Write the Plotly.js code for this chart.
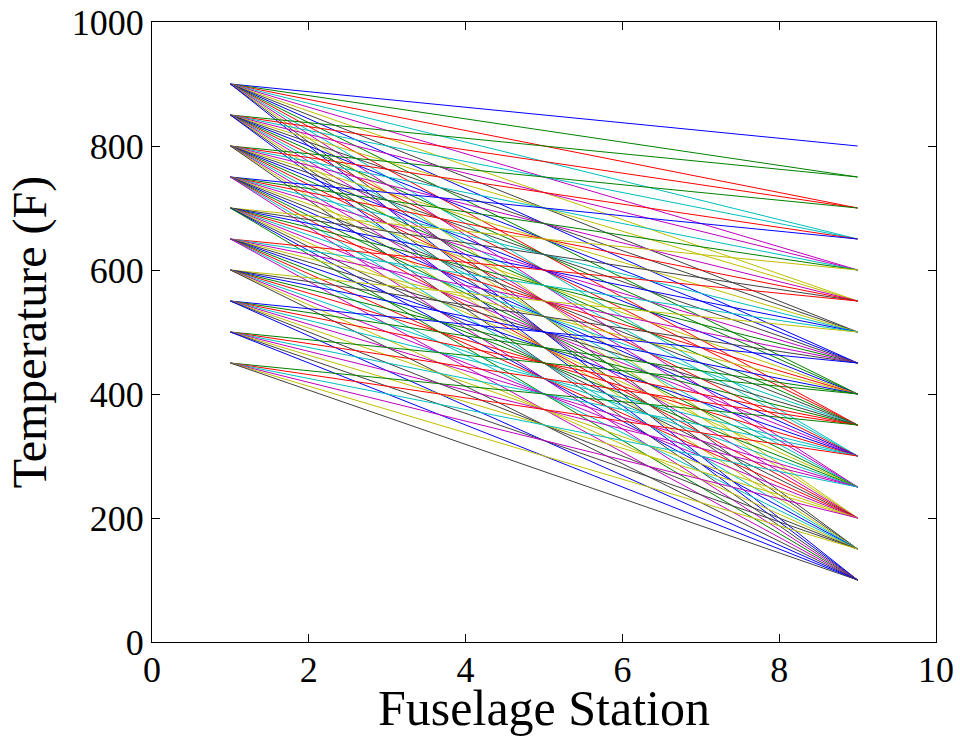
<!DOCTYPE html>
<html>
<head>
<meta charset="utf-8">
<script src="https://cdn.plot.ly/plotly-3.0.1.min.js"></script>
<style>
  html, body { margin: 0; padding: 0; background: #ffffff; }
  #chart { width: 960px; height: 736px; }
</style>
</head>
<body>
<div id="chart"></div>
<script>
// Fuselage stations where each temperature line starts and ends
const stations = [1, 9];
// Temperatures at the first station (F)
const startTemps = [900, 850, 800, 750, 700, 650, 600, 550, 500, 450];
// Temperatures at the last station (F)
const endTemps = [800, 750, 700, 650, 600, 550, 500, 450, 400, 350, 300, 250, 200, 150, 100];
// Smallest drop between first and last station shown (F)
const minDrop = 100;

const xTicks = [0, 2, 4, 6, 8, 10];
const yTicks = [0, 200, 400, 600, 800, 1000];

// MATLAB classic colour order
const palette = ['#0000ff', '#008000', '#ff0000', '#00bfbf', '#bf00bf', '#bfbf00', '#404040'];

const traces = [];
let k = 0;
for (const s of startTemps) {
  for (const e of endTemps) {
    if (e <= s - minDrop) {
      traces.push({
        x: stations,
        y: [s, e],
        type: 'scatter',
        mode: 'lines',
        line: { color: palette[k % palette.length], width: 1 },
        hoverinfo: 'skip'
      });
      k++;
    }
  }
}

const font = 'Liberation Serif, Times New Roman, serif';
const axisCommon = {
  showline: true, linecolor: '#000', linewidth: 1,
  mirror: 'ticks', ticks: 'inside', ticklen: 8, tickwidth: 1, tickcolor: '#000',
  showgrid: false, zeroline: false,
  tickfont: { family: font, size: 36, color: '#000' }
};

const layout = {
  width: 960, height: 736,
  margin: { l: 152, r: 24, t: 22, b: 94 },
  paper_bgcolor: '#fff', plot_bgcolor: '#fff',
  showlegend: false,
  xaxis: Object.assign({}, axisCommon, {
    range: [0, 10], tickmode: 'array', tickvals: xTicks, ticktext: xTicks.map(String),
    ticklabelstandoff: -4,
    title: { text: 'Fuselage Station', font: { family: font, size: 50, color: '#000' }, standoff: 6 }
  }),
  yaxis: Object.assign({}, axisCommon, {
    range: [0, 1000], tickmode: 'array', tickvals: yTicks, ticktext: yTicks.map(String),
    title: { text: 'Temperature (F)', font: { family: font, size: 48, color: '#000' }, standoff: 9 }
  })
};

Plotly.newPlot('chart', traces, layout, { staticPlot: true, displayModeBar: false });
</script>
</body>
</html>
